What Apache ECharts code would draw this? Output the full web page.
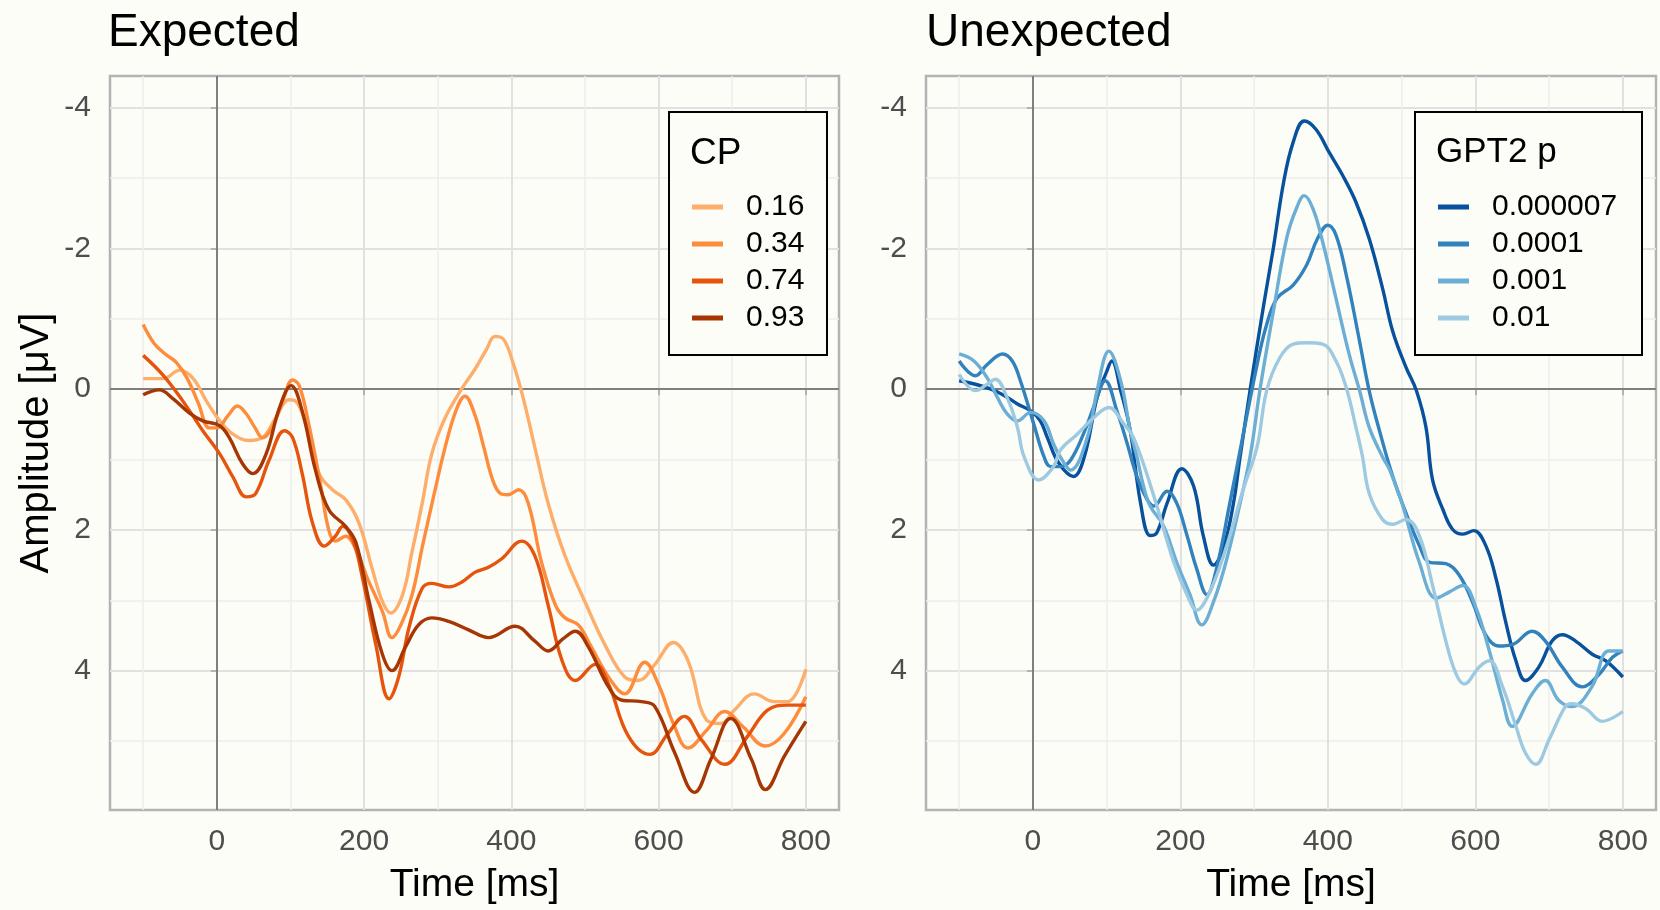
<!DOCTYPE html>
<html>
<head>
<meta charset="utf-8">
<title>ERP amplitude by predictability</title>
<script src="https://cdn.jsdelivr.net/npm/echarts@6/dist/echarts.min.js"></script>
<style>
  html, body { margin: 0; padding: 0; background: #fdfdf8; }
  #chart { width: 1660px; height: 910px; }
</style>
</head>
<body>
<div id="chart"></div>
<script>
// ---- data (time in ms, amplitude in µV) ----
const majorTimeTicks = [0, 200, 400, 600, 800];
const minorTimeTicks = [-100, 100, 300, 500, 700];
const majorAmpTicks = [-4, -2, 0, 2, 4];
const minorAmpTicks = [-3, -1, 1, 3, 5];

const cpNames = ["0.16", "0.34", "0.74", "0.93"];
const cpColors = ["#fdae6b", "#fd8d3c", "#e6550d", "#a63603"];

const cp016Time = [-100, -73, -50, -32, -14, 4, 22, 44, 62, 80, 98, 107, 121, 139, 157, 175, 193, 211, 225, 236, 252, 265, 279, 292, 310, 333, 351, 366, 378, 390, 403, 416, 432, 450, 473, 500, 527, 554, 572, 595, 620, 640, 665, 685, 703, 730, 757, 775, 800];
const cp016Amp = [-0.15, -0.15, -0.27, -0.15, 0.17, 0.45, 0.64, 0.73, 0.69, 0.41, 0.15, 0.17, 0.50, 1.20, 1.43, 1.57, 1.90, 2.55, 3.02, 3.18, 2.93, 2.32, 1.62, 0.92, 0.41, -0.01, -0.29, -0.56, -0.75, -0.70, -0.35, 0.12, 0.83, 1.62, 2.37, 3.02, 3.63, 4.09, 4.14, 3.91, 3.60, 3.86, 4.70, 4.75, 4.56, 4.33, 4.44, 4.44, 3.98];

const cp034Time = [-100, -85, -70, -55, -40, -25, -10, 0, 15, 28, 40, 52, 62, 75, 90, 103, 112, 125, 140, 152, 161, 175, 190, 205, 225, 238, 250, 265, 280, 295, 310, 325, 337, 350, 362, 375, 385, 395, 410, 423, 441, 460, 473, 491, 509, 532, 554, 581, 600, 620, 640, 665, 690, 715, 745, 770, 800];
const cp034Amp = [-0.92, -0.65, -0.50, -0.38, -0.15, 0.20, 0.55, 0.55, 0.38, 0.24, 0.35, 0.55, 0.69, 0.55, 0.15, -0.13, -0.05, 0.50, 1.30, 2.00, 2.16, 2.09, 2.30, 2.70, 3.16, 3.53, 3.35, 2.93, 2.20, 1.50, 0.83, 0.30, 0.10, 0.35, 0.80, 1.30, 1.48, 1.50, 1.43, 1.62, 2.46, 3.07, 3.25, 3.35, 3.67, 4.09, 4.33, 3.88, 4.20, 4.75, 5.10, 4.85, 4.58, 4.80, 5.07, 4.90, 4.37];

const cp074Time = [-100, -73, -46, -19, 4, 22, 40, 53, 71, 92, 103, 116, 130, 146, 161, 171, 185, 198, 216, 234, 247, 261, 279, 292, 315, 333, 351, 369, 387, 414, 432, 450, 469, 487, 514, 532, 559, 588, 613, 635, 658, 690, 721, 748, 775, 800];
const cp074Amp = [-0.48, -0.20, 0.17, 0.59, 0.92, 1.25, 1.53, 1.48, 1.01, 0.59, 0.69, 1.20, 1.90, 2.23, 2.09, 1.95, 2.15, 2.69, 3.63, 4.40, 4.09, 3.39, 2.83, 2.76, 2.81, 2.74, 2.60, 2.53, 2.41, 2.16, 2.37, 3.07, 3.86, 4.14, 3.91, 4.19, 4.93, 5.19, 4.89, 4.65, 4.98, 5.33, 4.93, 4.56, 4.49, 4.49];

const cp093Time = [-100, -78, -60, -37, -19, 4, 17, 35, 49, 67, 85, 101, 116, 134, 152, 175, 189, 207, 225, 238, 256, 274, 292, 315, 342, 369, 405, 432, 450, 470, 487, 505, 532, 550, 577, 595, 622, 649, 671, 698, 726, 745, 771, 800];
const cp093Amp = [0.08, 0.01, 0.13, 0.34, 0.45, 0.52, 0.69, 1.06, 1.20, 0.92, 0.27, -0.05, 0.31, 1.15, 1.71, 1.95, 2.18, 3.02, 3.77, 4.00, 3.67, 3.35, 3.25, 3.30, 3.42, 3.53, 3.37, 3.58, 3.72, 3.55, 3.44, 3.67, 4.23, 4.42, 4.44, 4.51, 5.17, 5.73, 5.26, 4.68, 5.26, 5.69, 5.21, 4.72];

const gptNames = ["0.000007", "0.0001", "0.001", "0.01"];
const gptColors = ["#08519c", "#3182bd", "#6baed6", "#9ecae1"];

const gpt000007Time = [-100, -78, -57, -39, -21, -3, 10, 20, 35, 55, 70, 87, 100, 107, 119, 132, 146, 159, 168, 182, 202, 218, 231, 245, 258, 272, 281, 295, 313, 326, 340, 353, 368, 384, 402, 420, 438, 456, 474, 488, 506, 520, 533, 542, 556, 569, 583, 598, 614, 628, 641, 655, 668, 686, 704, 718, 736, 759, 777, 800];
const gpt000007Amp = [-0.12, -0.07, 0.00, 0.09, 0.21, 0.31, 0.45, 0.70, 1.05, 1.24, 0.95, 0.12, -0.25, -0.40, 0.02, 0.59, 1.62, 2.08, 2.04, 1.62, 1.13, 1.38, 2.08, 2.50, 2.27, 1.62, 0.96, -0.02, -1.20, -2.00, -2.94, -3.51, -3.81, -3.69, -3.36, -3.04, -2.66, -2.14, -1.44, -0.82, -0.31, 0.02, 0.54, 1.29, 1.71, 1.99, 2.06, 2.01, 2.22, 2.69, 3.30, 3.86, 4.14, 3.95, 3.58, 3.49, 3.58, 3.77, 3.86, 4.09];

const gpt0001Time = [-100, -78, -62, -41, -28, -17, 1, 15, 24, 37, 51, 70, 85, 98, 114, 128, 141, 155, 164, 182, 195, 209, 222, 236, 249, 267, 281, 304, 317, 331, 353, 371, 386, 400, 411, 425, 443, 456, 470, 488, 506, 524, 538, 560, 578, 596, 614, 632, 650, 677, 695, 718, 745, 768, 786, 800];
const gpt0001Amp = [-0.40, -0.19, -0.35, -0.50, -0.40, -0.12, 0.49, 0.96, 1.10, 1.10, 1.01, 0.60, 0.18, -0.12, 0.31, 0.78, 1.24, 1.57, 1.66, 1.45, 1.62, 2.08, 2.55, 2.92, 2.55, 1.62, 0.87, -0.35, -0.92, -1.29, -1.48, -1.76, -2.14, -2.33, -2.19, -1.62, -0.68, 0.02, 0.59, 1.24, 1.76, 2.22, 2.46, 2.48, 2.64, 3.02, 3.49, 3.65, 3.63, 3.44, 3.58, 3.95, 4.23, 4.05, 3.81, 3.72];

const gpt001Time = [-100, -80, -62, -48, -35, -21, -3, 15, 28, 37, 51, 74, 87, 103, 119, 132, 141, 150, 159, 177, 195, 213, 229, 245, 263, 281, 295, 308, 326, 344, 357, 368, 380, 393, 411, 429, 443, 456, 474, 484, 500, 524, 547, 565, 583, 601, 619, 637, 650, 677, 695, 713, 731, 758, 781, 800];
const gpt001Amp = [-0.50, -0.40, -0.16, 0.12, 0.35, 0.45, 0.33, 0.45, 0.78, 0.96, 1.15, 0.68, 0.02, -0.54, -0.12, 0.59, 0.96, 1.38, 1.66, 1.94, 2.46, 2.92, 3.35, 3.02, 2.41, 1.62, 0.93, 0.00, -1.10, -2.14, -2.56, -2.75, -2.56, -2.09, -1.29, -0.49, 0.02, 0.54, 0.96, 1.15, 1.60, 2.46, 2.97, 2.88, 2.79, 3.11, 3.72, 4.42, 4.79, 4.33, 4.14, 4.42, 4.51, 4.23, 3.72, 3.72];

const gpt01Time = [-100, -78, -62, -51, -35, -21, -12, 8, 28, 37, 60, 83, 103, 123, 137, 164, 191, 209, 222, 240, 263, 285, 304, 317, 335, 353, 371, 393, 411, 425, 438, 447, 456, 474, 488, 506, 524, 542, 560, 574, 585, 605, 619, 637, 655, 668, 682, 700, 722, 731, 750, 772, 800];
const gpt01Amp = [-0.21, 0.02, -0.07, -0.14, 0.12, 0.54, 0.96, 1.29, 1.10, 0.87, 0.64, 0.40, 0.26, 0.49, 0.70, 1.52, 2.46, 2.92, 3.14, 2.88, 2.22, 1.43, 0.82, 0.02, -0.45, -0.64, -0.66, -0.64, -0.40, -0.02, 0.54, 0.96, 1.48, 1.85, 1.92, 1.85, 2.08, 2.79, 3.58, 4.05, 4.19, 3.95, 3.86, 4.23, 4.79, 5.17, 5.33, 4.98, 4.51, 4.47, 4.54, 4.72, 4.58];

const expectedCurves = [[cp016Time, cp016Amp], [cp034Time, cp034Amp], [cp074Time, cp074Amp], [cp093Time, cp093Amp]];
const unexpectedCurves = [[gpt000007Time, gpt000007Amp], [gpt0001Time, gpt0001Amp], [gpt001Time, gpt001Amp], [gpt01Time, gpt01Amp]];

// ---- look ----
const FONT = "'Liberation Sans', Arial, sans-serif";
const BG = "#fdfdf8";
const panels = [
    { left: 110, width: 729 },
    { left: 926, width: 730 }
];
const panelTop = 76, panelHeight = 740;

function zip(ts, vs) {
    return ts.map((t, i) => [t, vs[i]]);
}

const xAxes = [];
const yAxes = [];
panels.forEach((p, g) => {
    // major axis carries the data, labels and ticks
    xAxes.push({
        gridIndex: g, type: "value", min: -145, max: 845,
        name: "Time [ms]", nameLocation: "middle", nameGap: 56,
        nameTextStyle: { fontSize: 39, color: "#000", fontFamily: FONT },
        axisLine: { show: false },
        axisTick: { show: true, length: 6, customValues: majorTimeTicks, lineStyle: { color: "#b3b3b3", width: 2 } },
        axisLabel: { customValues: majorTimeTicks, fontSize: 30, color: "#4d4d4d", margin: 17, fontFamily: FONT },
        splitLine: { show: true, lineStyle: { color: "#e2e0e0", width: 2 } }
    });
    // second axis only draws the minor grid
    xAxes.push({
        gridIndex: g, type: "value", min: -145, max: 845,
        axisLine: { show: false }, axisLabel: { show: false },
        axisTick: { show: false, customValues: minorTimeTicks },
        splitLine: { show: true, lineStyle: { color: "#efeded", width: 1.5 } }
    });
    yAxes.push({
        gridIndex: g, type: "value", inverse: true, min: -4.45, max: 5.98,
        name: g === 0 ? "Amplitude [μV]" : "", nameLocation: "middle", nameGap: 53,
        nameTextStyle: { fontSize: 40, color: "#000", fontFamily: FONT },
        axisLine: { show: false },
        axisTick: { show: true, length: 6, customValues: majorAmpTicks, lineStyle: { color: "#b3b3b3", width: 2 } },
        axisLabel: { customValues: majorAmpTicks, fontSize: 30, color: "#4d4d4d", margin: 19, fontFamily: FONT },
        splitLine: { show: true, lineStyle: { color: "#e2e0e0", width: 2 } }
    });
    yAxes.push({
        gridIndex: g, type: "value", inverse: true, min: -4.45, max: 5.98,
        axisLine: { show: false }, axisLabel: { show: false },
        axisTick: { show: false, customValues: minorAmpTicks },
        splitLine: { show: true, lineStyle: { color: "#efeded", width: 1.5 } }
    });
});

const series = [];
[expectedCurves, unexpectedCurves].forEach((curves, g) => {
    // zero reference lines
    series.push({
        type: "line", name: "zero" + g, xAxisIndex: g * 2, yAxisIndex: g * 2, data: [],
        silent: true, z: 1,
        markLine: {
            silent: true, symbol: "none", z: 1, animation: false,
            label: { show: false },
            lineStyle: { color: "#7f7f7f", width: 2, type: "solid" },
            data: [{ xAxis: 0 }, { yAxis: 0 }]
        }
    });
    const names = g === 0 ? cpNames : gptNames;
    const colors = g === 0 ? cpColors : gptColors;
    curves.forEach((c, i) => {
        series.push({
            type: "line", name: names[i], xAxisIndex: g * 2, yAxisIndex: g * 2,
            data: zip(c[0], c[1]),
            showSymbol: false, smooth: 0.4, z: 2,
            lineStyle: { color: colors[i], width: 3.4 },
            itemStyle: { color: colors[i] },
            emphasis: { disabled: true }
        });
    });
});

function legendBox(x, y, w, h, title, size) {
    return [
        { type: "rect", z: 3, shape: { x: x, y: y, width: w, height: h },
          style: { fill: BG, stroke: "#000", lineWidth: 2 } },
        { type: "text", z: 5, x: x + 21, y: y + 23,
          style: { text: title, fontSize: size, fill: "#000", fontFamily: FONT } }
    ];
}

function legendFor(names, left) {
    return {
        data: names, orient: "vertical", left: left, top: 187,
        icon: "rect", itemWidth: 31, itemHeight: 5, itemGap: 7,
        selectedMode: false, z: 6,
        textStyle: { fontSize: 30, lineHeight: 30, color: "#000", fontFamily: FONT, padding: [0, 0, 0, 18] }
    };
}

const chart = echarts.init(document.getElementById("chart"), null, { renderer: "canvas" });
chart.setOption({
    animation: false,
    backgroundColor: BG,
    title: [
        { text: "Expected", left: 108, top: 10, padding: 0, textStyle: { fontSize: 46, fontWeight: "normal", color: "#000", fontFamily: FONT } },
        { text: "Unexpected", left: 926, top: 10, padding: 0, textStyle: { fontSize: 46, fontWeight: "normal", color: "#000", fontFamily: FONT } }
    ],
    grid: panels.map(p => ({
        left: p.left, top: panelTop, width: p.width, height: panelHeight,
        show: true, borderColor: "#b3b3b3", borderWidth: 2.5, backgroundColor: "transparent"
    })),
    legend: [legendFor(cpNames, 687), legendFor(gptNames, 1433)],
    graphic: legendBox(669, 112, 158, 243, "CP", 37).concat(legendBox(1415, 112, 227, 243, "GPT2 p", 35)),
    xAxis: xAxes,
    yAxis: yAxes,
    series: series
});
</script>
</body>
</html>
